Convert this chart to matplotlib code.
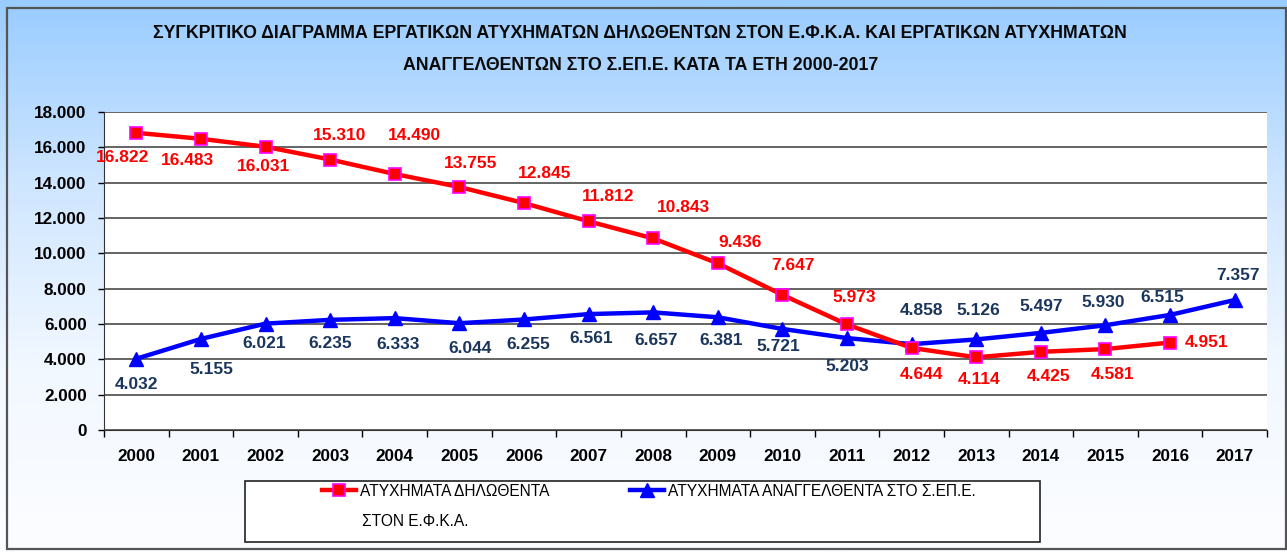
import numpy as np
import matplotlib
matplotlib.use("Agg")
import matplotlib.pyplot as plt
from matplotlib.colors import LinearSegmentedColormap
from matplotlib.patches import Rectangle

plt.rcParams['font.family'] = ['Liberation Sans', 'DejaVu Sans']

# data
years = ['2000', '2001', '2002', '2003', '2004', '2005', '2006', '2007', '2008',
         '2009', '2010', '2011', '2012', '2013', '2014', '2015', '2016', '2017']
efka = [16822, 16483, 16031, 15310, 14490, 13755, 12845, 11812, 10843,
        9436, 7647, 5973, 4644, 4114, 4425, 4581, 4951, np.nan]
sepe = [4032, 5155, 6021, 6235, 6333, 6044, 6255, 6561, 6657,
        6381, 5721, 5203, 4858, 5126, 5497, 5930, 6515, 7357]
yticks = [0, 2000, 4000, 6000, 8000, 10000, 12000, 14000, 16000, 18000]

title1 = 'ΣΥΓΚΡΙΤΙΚΟ ΔΙΑΓΡΑΜΜΑ ΕΡΓΑΤΙΚΩΝ ΑΤΥΧΗΜΑΤΩΝ ΔΗΛΩΘΕΝΤΩΝ ΣΤΟΝ Ε.Φ.Κ.Α. ΚΑΙ ΕΡΓΑΤΙΚΩΝ ΑΤΥΧΗΜΑΤΩΝ'
title2 = 'ΑΝΑΓΓΕΛΘΕΝΤΩΝ ΣΤΟ Σ.ΕΠ.Ε. ΚΑΤΑ ΤΑ ΕΤΗ 2000-2017'
label_efka = ['ΑΤΥΧΗΜΑΤΑ ΔΗΛΩΘΕΝΤΑ', 'ΣΤΟΝ Ε.Φ.Κ.Α.']
label_sepe = 'ΑΤΥΧΗΜΑΤΑ ΑΝΑΓΓΕΛΘΕΝΤΑ ΣΤΟ Σ.ΕΠ.Ε.'

# label placement (pixel offsets from the point)
efka_off = [(-14, -25), (-13, -22), (-2, -20), (9, 24), (20, 39), (11, 23),
            (21, 30), (20, 25), (30, 31), (22, 21), (11, 29), (7, 27),
            (10, -27), (3, -22), (8, -25), (7, -25), (36, 0), None]
sepe_off = [(0, -26), (10, -31), (-1, -20), (0, -24), (3, -26), (11, -25),
            (4, -25), (3, -24), (3, -28), (3, -23), (-4, -18), (0, -28),
            (10, 34), (2, 29), (0, 26), (-2, 23), (-8, 17), (3, 25)]


def fmt(v):
    return f"{int(v):,}".replace(',', '.')


W, H = 1287, 552
fig = plt.figure(figsize=(W / 100, H / 100), dpi=100)

# gradient background
bg = fig.add_axes([0, 0, 1, 1], zorder=-10)
cmap = LinearSegmentedColormap.from_list('bg', ['#99CCFF', '#CFE6FF', '#F2F8FF', '#FCFDFF'])
bg.imshow(np.linspace(0, 1, 256).reshape(-1, 1), aspect='auto', cmap=cmap,
          extent=[0, 1, 0, 1], origin='upper')
bg.set_xlim(0, 1)
bg.set_ylim(0, 1)
bg.axis('off')
bg.add_patch(Rectangle((7 / W, 1 - 549 / H), (1286 - 7) / W, (549 - 8) / H,
                       fill=False, edgecolor='#555555', lw=1.6))

ax = fig.add_axes([104 / W, 1 - 430 / H, (1267 - 104) / W, (430 - 112) / H])
ax.set_facecolor('white')
x = np.arange(len(years))

red, = ax.plot(x, efka, color='#FF0000', lw=3.2, marker='s', markersize=8.5,
               markerfacecolor='#FF0000', markeredgecolor='#FF00FF', markeredgewidth=1.2,
               zorder=4)
blue, = ax.plot(x, sepe, color='#0000FF', lw=3.2, marker='^', markersize=9.5,
                markerfacecolor='#0000FF', markeredgecolor='#0000FF', zorder=3)

for i, v in enumerate(efka):
    if efka_off[i] is None or np.isnan(v):
        continue
    ax.annotate(fmt(v), (i, v), xytext=efka_off[i], textcoords='offset pixels',
                ha='center', va='center', fontsize=12.5, fontweight='bold',
                color='#FF0000', zorder=6)
for i, v in enumerate(sepe):
    ax.annotate(fmt(v), (i, v), xytext=sepe_off[i], textcoords='offset pixels',
                ha='center', va='center', fontsize=12.5, fontweight='bold',
                color='#1B365D', zorder=6)

ax.set_xlim(-0.5, len(years) - 0.5)
ax.set_ylim(0, 18000)
ax.set_yticks(yticks)
ax.set_yticklabels([fmt(t) for t in yticks])
ax.set_xticks(x)
ax.set_xticklabels(years)
ax.set_xticks(np.arange(-0.5, len(years), 1), minor=True)
ax.tick_params(axis='x', which='major', length=0, pad=14)
ax.tick_params(axis='x', which='minor', length=5, width=1, direction='out')
ax.tick_params(axis='y', length=4.5, width=1, direction='out', pad=8)
for lab in ax.get_xticklabels() + ax.get_yticklabels():
    lab.set_fontsize(12.3)
    lab.set_fontweight('bold')
    lab.set_color('#000000')

ax.grid(axis='y', color='#3A3A3A', lw=1.1)
ax.set_axisbelow(True)
for s in ['top', 'right']:
    ax.spines[s].set_visible(False)
ax.spines['left'].set_color('#333333')
ax.spines['bottom'].set_color('#333333')

# title
fig.text(640 / W, 1 - 34 / H, title1, ha='center', va='center',
         fontsize=12.8, fontweight='bold', color='#0A0A0A')
fig.text(641 / W, 1 - 65 / H, title2, ha='center', va='center',
         fontsize=12.8, fontweight='bold', color='#0A0A0A')

# legend
bg.add_patch(Rectangle((245 / W, 1 - 542 / H), (1040 - 245) / W, (542 - 481) / H,
                       facecolor='white', edgecolor='#222222', lw=1.2))
leg1 = fig.legend([red], [label_efka[0]], loc='center left',
                  bbox_to_anchor=(322 / W, 1 - 491 / H), frameon=False,
                  borderpad=0, borderaxespad=0, handlelength=2.2, handletextpad=0.25,
                  fontsize=11.2)
leg2 = fig.legend([blue], [label_sepe], loc='center left',
                  bbox_to_anchor=(630 / W, 1 - 491 / H), frameon=False,
                  borderpad=0, borderaxespad=0, handlelength=2.2, handletextpad=0.25,
                  fontsize=11.2)
fig.text(362 / W, 1 - 522 / H, label_efka[1], ha='left', va='center', fontsize=11.2)

fig.savefig('out.png', dpi=100)
